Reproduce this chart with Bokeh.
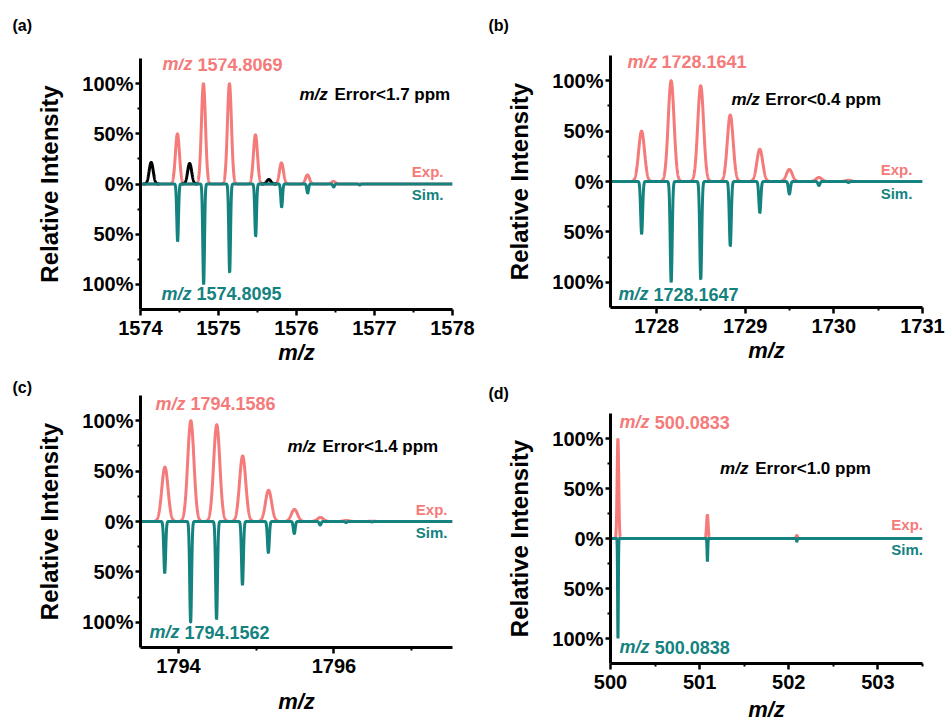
import numpy as np
from bokeh.plotting import figure
from bokeh.models import Range1d, FixedTicker, CustomJSTickFormatter, Label
from bokeh.layouts import column, row
from bokeh.embed import file_html
from bokeh.resources import INLINE

EXP_COLOR = "#F57A7A"
SIM_COLOR = "#14827F"
FONT = "Liberation Sans"

# ---- (a) ----
a_exp_mz = [1574.4735, 1574.8069, 1575.1403, 1575.4737, 1575.8071, 1576.1405, 1576.4739]
a_exp_int = [50, 100, 100, 49, 21, 9, 2.5]
a_other_mz = [1574.137, 1574.630, 1575.645]
a_other_int = [21.5, 20.5, 4.5]
a_sim_mz = [1574.4761, 1574.8095, 1575.1429, 1575.4763, 1575.8097, 1576.1431, 1576.4765, 1576.8099]
a_sim_int = [57, 100, 88, 52, 23, 9, 3, 1]

# ---- (b) ----
b_exp_mz = [1727.8307, 1728.1641, 1728.4975, 1728.8309, 1729.1643, 1729.4977, 1729.8311, 1730.1645]
b_exp_int = [50, 100, 95, 66, 32, 12, 4, 1.2]
b_sim_mz = [1727.8313, 1728.1647, 1728.4981, 1728.8315, 1729.1649, 1729.4983, 1729.8317, 1730.1651]
b_sim_int = [52, 100, 97, 64, 31, 12.5, 4, 1]

# ---- (c) ----
c_exp_mz = [1793.8252, 1794.1586, 1794.4920, 1794.8254, 1795.1588, 1795.4922, 1795.8256, 1796.1590, 1796.4924]
c_exp_int = [54, 100, 96, 65, 31, 12, 4, 1, 0.3]
c_sim_mz = [1793.8228, 1794.1562, 1794.4896, 1794.8230, 1795.1564, 1795.4898, 1795.8232, 1796.1566, 1796.4900]
c_sim_int = [51, 100, 97, 63, 31, 12, 3.5, 1, 0.4]

# ---- (d) ----
d_exp_mz = [500.0833, 501.0866, 502.0900]
d_exp_int = [100, 23.5, 3]
d_sim_mz = [500.0838, 501.0871, 502.0905]
d_sim_int = [100, 23, 3]


def profile(grid, centers, heights, sigma):
    """Sum of Gaussian line shapes centred on the listed peaks."""
    y = np.zeros_like(grid)
    for c, h in zip(centers, heights):
        y += h * np.exp(-0.5 * ((grid - c) / sigma) ** 2)
    return y


def add_text(p, x, y, text, color="black", size="18px", style="bold", align="left"):
    p.add_layout(Label(x=x, y=y, text=text, text_color=color, text_font=FONT,
                       text_font_size=size, text_font_style=style,
                       text_align=align, text_baseline="middle"))


def make_panel(tag, width, height, borders, xrange, xticks, xminor,
               x_title_standoff, tag_offset=0, tag_standoff=0):
    left, right, top, bottom = borders
    p = figure(width=width, height=height, output_backend="svg", toolbar_location=None,
               title=tag, x_range=Range1d(*xrange), y_range=Range1d(-125, 125),
               min_border_left=left, min_border_right=right,
               min_border_top=top, min_border_bottom=bottom)
    p.outline_line_color = None
    p.grid.visible = False
    p.background_fill_color = "white"
    p.border_fill_color = "white"

    if tag is not None:
        p.title.align = "left"
        p.title.offset = tag_offset
        p.title.standoff = tag_standoff
        p.title.text_font = FONT
        p.title.text_font_size = "16px"
        p.title.text_font_style = "bold"
        p.title.text_color = "black"

    p.xaxis.ticker = FixedTicker(ticks=xticks, minor_ticks=xminor)
    p.yaxis.ticker = FixedTicker(ticks=[-100, -50, 0, 50, 100], minor_ticks=[-75, -25, 25, 75])
    p.yaxis.formatter = CustomJSTickFormatter(code="return Math.abs(tick) + '%';")

    for ax in (p.xaxis[0], p.yaxis[0]):
        ax.axis_line_width = 3
        ax.axis_line_color = "black"
        ax.major_tick_line_width = 2.5
        ax.minor_tick_line_width = 2
        ax.major_tick_in = 0
        ax.minor_tick_in = 0
        ax.major_label_text_font = FONT
        ax.major_label_text_font_style = "bold"
        ax.major_label_text_font_size = "20px"
        ax.major_label_text_color = "black"
        ax.axis_label_text_font = FONT
        ax.axis_label_text_color = "black"

    p.xaxis.major_tick_out = 6
    p.xaxis.minor_tick_out = 3
    p.xaxis.major_label_standoff = 5
    p.xaxis.axis_label = "m/z"
    p.xaxis.axis_label_text_font_style = "bold italic"
    p.xaxis.axis_label_text_font_size = "22px"
    p.xaxis.axis_label_standoff = x_title_standoff

    p.yaxis.major_tick_out = 5
    p.yaxis.minor_tick_out = 3
    p.yaxis.major_label_standoff = 2
    p.yaxis.axis_label = "Relative Intensity"
    p.yaxis.axis_label_text_font_style = "bold"
    p.yaxis.axis_label_text_font_size = "24px"
    p.yaxis.axis_label_standoff = 16
    return p


def draw_spectrum(p, xrange, exp_mz, exp_int, sim_mz, sim_int, exp_sigma, sim_sigma,
                  other_mz=None, other_int=None):
    grid = np.arange(xrange[0], xrange[1] + 0.0005, 0.0008)
    p.line(grid, profile(grid, exp_mz, exp_int, exp_sigma), line_color=EXP_COLOR, line_width=3)
    if other_mz:
        y = profile(grid, other_mz, other_int, exp_sigma)
        near = np.zeros_like(grid, dtype=bool)
        for c in other_mz:
            near |= np.abs(grid - c) < 4 * exp_sigma
        y[~near] = np.nan
        p.line(grid, y, line_color="black", line_width=3)
    p.line(grid, -profile(grid, sim_mz, sim_int, sim_sigma), line_color=SIM_COLOR, line_width=3)


def annotate(p, exp_xy, exp_num_x, exp_text, err_xy, err_num_x, err_text,
             legend_x, legend_y, sim_xy, sim_num_x, sim_text):
    add_text(p, exp_xy[0], exp_xy[1], "m/z", EXP_COLOR, style="bold italic")
    add_text(p, exp_num_x, exp_xy[1], exp_text, EXP_COLOR)
    add_text(p, err_xy[0], err_xy[1], "m/z", size="17px", style="bold italic")
    add_text(p, err_num_x, err_xy[1], err_text, size="17px")
    add_text(p, legend_x, legend_y[0], "Exp.", EXP_COLOR, size="15px", align="right")
    add_text(p, legend_x, legend_y[1], "Sim.", SIM_COLOR, size="15px", align="right")
    add_text(p, sim_xy[0], sim_xy[1], "m/z", SIM_COLOR, style="bold italic")
    add_text(p, sim_num_x, sim_xy[1], sim_text, SIM_COLOR)


# strip across the top carrying the tags of the upper panels (pixel coordinates)
tags = figure(width=946, height=40, output_backend="svg", toolbar_location=None,
              x_range=Range1d(0, 946), y_range=Range1d(40, 0),
              x_axis_type=None, y_axis_type=None, min_border=0)
tags.outline_line_color = None
tags.grid.visible = False
add_text(tags, 12, 25, "(a)", size="16px")
add_text(tags, 488, 25, "(b)", size="16px")

# (a)
xa = (1574.0, 1578.0)
pa = make_panel(None, 480, 330, (140, 28, 18, 61), xa, [1574, 1575, 1576, 1577, 1578],
                [1574.5, 1575.5, 1576.5, 1577.5], 2)
draw_spectrum(pa, xa, a_exp_mz, a_exp_int, a_sim_mz, a_sim_int, 0.026, 0.011,
              a_other_mz, a_other_int)
annotate(pa, (1574.282, 119.4), 1574.731, "1574.8069",
         (1576.038, 89.6), 1576.487, "Error<1.7 ppm", 1577.885, (12.9, -10.9),
         (1574.269, -109.5), 1574.718, "1574.8095")

# (c)
xc = (1793.511, 1797.526)
pc = make_panel("(c)", 480, 354, (140, 28, 25, 77), xc, [1794, 1796], [1795, 1797],
                13, -128, 0)
draw_spectrum(pc, xc, c_exp_mz, c_exp_int, c_sim_mz, c_sim_int, 0.040, 0.012)
annotate(pc, (1793.704, 116.8), 1794.154, "1794.1586",
         (1795.403, 74.3), 1795.853, "Error<1.4 ppm", 1797.462, (11.9, -10.9),
         (1793.626, -109.9), 1794.077, "1794.1562")

# (b)
xb = (1727.48, 1731.0)
pb = make_panel(None, 466, 330, (130, 24, 15, 63), xb, [1728, 1729, 1730, 1731],
                [1728.5, 1729.5, 1730.5], 2)
draw_spectrum(pb, xb, b_exp_mz, b_exp_int, b_sim_mz, b_sim_int, 0.033, 0.011)
annotate(pb, (1727.672, 118.8), 1728.055, "1728.1641",
         (1728.844, 81.2), 1729.227, "Error<0.4 ppm", 1730.885, (11.9, -11.9),
         (1727.57, -111.9), 1727.965, "1728.1647")

# (d)
xd = (500.0, 503.5)
pd = make_panel("(d)", 466, 354, (130, 24, 42, 61), xd, [500, 501, 502, 503],
                [500.5, 501.5, 502.5, 503.5], 5, -122, 24)
draw_spectrum(pd, xd, d_exp_mz, d_exp_int, d_sim_mz, d_sim_int, 0.009, 0.004)
annotate(pd, (500.101, 116.4), 500.496, "500.0833",
         (501.229, 69.7), 501.623, "Error<1.0 ppm", 503.506, (13.9, -10.9),
         (500.101, -108.5), 500.496, "500.0838")

layout = column(tags, row(column(pa, pc), column(pb, pd)))
open("out.html", "w").write(file_html(layout, INLINE))
